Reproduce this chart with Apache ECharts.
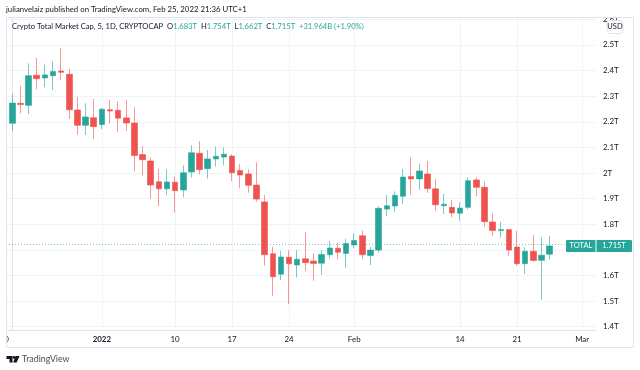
<!DOCTYPE html>
<html>
<head>
<meta charset="utf-8">
<style>
  html, body { margin: 0; padding: 0; background: #fff; }
  #chart { width: 640px; height: 370px; }
</style>
<script src="https://cdn.jsdelivr.net/npm/echarts@6/dist/echarts.min.js"></script>
</head>
<body>
<div id="chart"></div>
<script>
// candles, Dec 21 2021 to Feb 25 2022, one per day
const opens = [2.194,2.272,2.264,2.382,2.371,2.380,2.398,2.385,2.246,2.186,2.216,2.189,2.247,2.245,2.215,2.195,2.072,2.047,1.966,1.938,1.964,1.934,2.004,2.077,2.017,2.055,2.062,2.066,2.010,1.996,1.953,1.887,1.685,1.605,1.671,1.641,1.665,1.656,1.648,1.681,1.706,1.686,1.719,1.755,1.678,1.699,1.859,1.871,1.909,1.986,1.977,1.996,1.938,1.872,1.866,1.843,1.866,1.973,1.944,1.809,1.775,1.779,1.711,1.646,1.694,1.659,1.683];
const closes = [2.273,2.267,2.380,2.368,2.383,2.396,2.393,2.247,2.186,2.219,2.181,2.249,2.242,2.214,2.195,2.068,2.052,1.953,1.938,1.965,1.931,2.001,2.079,2.013,2.055,2.065,2.073,2.001,1.992,1.952,1.898,1.681,1.595,1.672,1.646,1.663,1.650,1.647,1.682,1.707,1.691,1.725,1.736,1.681,1.699,1.862,1.872,1.913,1.984,1.977,2.008,1.939,1.876,1.878,1.844,1.863,1.970,1.944,1.810,1.775,1.779,1.699,1.646,1.694,1.658,1.679,1.715];
const lows = [2.164,2.233,2.230,2.327,2.335,2.324,2.363,2.211,2.150,2.148,2.133,2.171,2.193,2.161,2.164,2.006,1.991,1.900,1.871,1.913,1.845,1.905,1.983,1.994,1.978,2.025,2.030,1.969,1.941,1.923,1.888,1.638,1.521,1.582,1.488,1.592,1.618,1.579,1.602,1.665,1.663,1.630,1.706,1.663,1.641,1.689,1.832,1.849,1.879,1.915,1.934,1.923,1.853,1.840,1.827,1.814,1.857,1.908,1.789,1.754,1.747,1.677,1.638,1.606,1.654,1.505,1.662];
const highs = [2.309,2.340,2.428,2.449,2.423,2.436,2.487,2.406,2.297,2.272,2.289,2.255,2.285,2.279,2.285,2.257,2.105,2.061,2.016,2.014,1.986,2.030,2.108,2.124,2.090,2.103,2.100,2.073,2.036,2.014,2.042,1.914,1.712,1.695,1.699,1.699,1.769,1.686,1.699,1.734,1.729,1.743,1.764,1.776,1.712,1.870,1.914,1.928,2.016,2.061,2.037,2.047,1.977,1.918,1.895,1.885,1.983,1.983,1.966,1.843,1.809,1.780,1.774,1.710,1.757,1.749,1.754];

// x ticks, as day numbers counted from Dec 21
const xTickDays = [-1, 11, 20, 27, 34, 42, 55, 62, 70];
const xTickLabels = ["20", "2022", "10", "17", "24", "Feb", "14", "21", "Mar"];
const yTicks = [1.4, 1.5, 1.6, 1.7, 1.8, 1.9, 2.0, 2.1, 2.2, 2.3, 2.4, 2.5, 2.6];
const yTickLabels = ["1.4T", "1.5T", "1.6T", "1.7T", "1.8T", "1.9T", "2T", "2.1T", "2.2T", "2.3T", "2.4T", "2.5T", "2.6T"];

const lastValue = 1.715;
const FONT = "Lato, 'Noto Sans', sans-serif";
const FONT_SIZE = 7.9;
const UP = "#26a69a";
const DOWN = "#ef5350";
const TEXT = "#131722";
const GRID = "#f0f3fa";
const FRAME = "#e0e3eb";

const candles = opens.map((o, i) => [i, o, closes[i], lows[i], highs[i]]);

const chart = echarts.init(document.getElementById("chart"), null, { renderer: "canvas" });

chart.setOption({
  animation: false,
  backgroundColor: "#fff",
  title: [
    {
      text: "julianvelaiz published on TradingView.com, Feb 25, 2022 21:36 UTC+1",
      left: 6, top: 5, padding: 0, z: 60,
      textStyle: { fontFamily: FONT, fontSize: 7.8, fontWeight: "normal", color: TEXT },
    },
    {
      text: "Crypto Total Market Cap, 5, 1D, CRYPTOCAP  O{v|1.683T}  H{v|1.754T}  L{v|1.662T}  C{v|1.715T}  {v|+31.964B (+1.90%)}",
      left: 12, top: 23, padding: 0, z: 60,
      textStyle: {
        fontFamily: FONT, fontSize: 7.6, fontWeight: "normal", color: TEXT,
        rich: { v: { fontFamily: FONT, fontSize: 7.6, color: UP } },
      },
    },
  ],
  grid: { left: 0, right: 44, top: 17, bottom: 40, outerBoundsMode: "none" },
  xAxis: {
    type: "value",
    min: -1.511,
    max: 71.7,
    axisLine: { show: true, onZero: false, lineStyle: { color: FRAME } },
    axisTick: { show: false, customValues: xTickDays },
    splitLine: { show: true, lineStyle: { color: GRID } },
    axisLabel: {
      show: true,
      customValues: xTickDays,
      margin: 5,
      hideOverlap: false,
      showMinLabel: true,
      showMaxLabel: true,
      fontFamily: FONT,
      fontSize: FONT_SIZE,
      color: TEXT,
      formatter: (v) => {
        const label = xTickLabels[xTickDays.indexOf(v)];
        return label === "2022" ? "{b|2022}" : label;
      },
      rich: { b: { fontFamily: FONT, fontSize: FONT_SIZE, fontWeight: "bold", color: TEXT } },
    },
  },
  yAxis: {
    type: "value",
    position: "right",
    min: 1.387,
    max: 2.609,
    axisLine: { show: true, lineStyle: { color: FRAME } },
    axisTick: { show: false, customValues: yTicks },
    splitLine: { show: true, lineStyle: { color: GRID } },
    axisLabel: {
      customValues: yTicks,
      margin: 7,
      fontFamily: FONT,
      fontSize: FONT_SIZE,
      color: TEXT,
      formatter: (v) => yTickLabels[yTicks.findIndex((t) => Math.abs(t - v) < 1e-6)],
    },
  },
  series: [
    {
      name: "TOTAL",
      type: "candlestick",
      encode: { x: 0, y: [1, 2, 3, 4] },
      barWidth: 6,
      itemStyle: {
        color: UP,
        color0: DOWN,
        borderColor: "rgba(38,166,154,0.6)",
        borderColor0: "rgba(239,83,80,0.6)",
        borderWidth: 1,
      },
      markLine: {
        silent: true,
        symbol: "none",
        label: { show: false },
        lineStyle: { type: [1, 2], color: UP, width: 1, opacity: 0.6 },
        data: [{ yAxis: lastValue }],
      },
      data: candles,
    },
  ],
});

const lastY = chart.convertToPixel({ yAxisIndex: 0 }, lastValue);

chart.setOption({
  graphic: [
    // blanks the margin and the strip over the pane, so the edge labels are cut like in the original
    { type: "rect", z: 50, shape: { x: 0, y: 0, width: 6, height: 370 }, style: { fill: "#fff" } },
    { type: "rect", z: 50, shape: { x: 0, y: 0, width: 640, height: 17 }, style: { fill: "#fff" } },
    { type: "rect", z: 55, shape: { x: 6.5, y: 17.5, width: 627, height: 330 }, style: { fill: "none", stroke: FRAME } },
    // USD button
    { type: "rect", z: 56, shape: { x: 607, y: 20.5, width: 16, height: 13, r: 3 }, style: { fill: "#fff", stroke: FRAME } },
    { type: "text", z: 57, x: 615, y: 27, style: { text: "USD", fontFamily: FONT, fontSize: 7.5, fill: TEXT, align: "center", verticalAlign: "middle" } },
    // last value tag
    { type: "rect", z: 56, shape: { x: 566, y: Math.round(lastY) - 6, width: 66, height: 12, r: 1 }, style: { fill: UP } },
    { type: "rect", z: 57, shape: { x: 595.5, y: Math.round(lastY) - 6, width: 1, height: 12 }, style: { fill: "#fff" } },
    { type: "text", z: 58, x: 581, y: lastY, style: { text: "TOTAL", fontFamily: FONT, fontSize: 7.5, fill: "#fff", align: "center", verticalAlign: "middle" } },
    { type: "text", z: 58, x: 614, y: lastY, style: { text: "1.715T", fontFamily: FONT, fontSize: 7.5, fill: "#fff", align: "center", verticalAlign: "middle" } },
    // footer logo
    { type: "polygon", z: 56, shape: { points: [[6.5, 356], [12.5, 356], [12.5, 362.5], [9.5, 362.5], [9.5, 358.9], [6.5, 358.9]] }, style: { fill: TEXT } },
    { type: "circle", z: 56, shape: { cx: 14, cy: 357.4, r: 1.3 }, style: { fill: TEXT } },
    { type: "polygon", z: 56, shape: { points: [[15.6, 356], [19.5, 356], [16.7, 362.5], [13.1, 362.5]] }, style: { fill: TEXT } },
    { type: "text", z: 56, x: 22, y: 359, style: { text: "TradingView", fontFamily: FONT, fontSize: 8.8, fill: "#4a4e5a", verticalAlign: "middle" } },
  ],
});
</script>
</body>
</html>
